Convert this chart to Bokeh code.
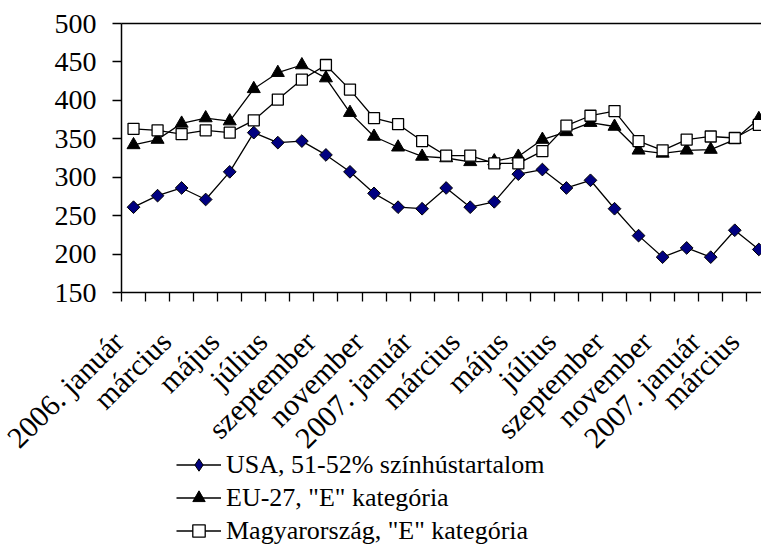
import math
from bokeh.plotting import figure
from bokeh.models import Range1d, FixedTicker, Legend, LegendItem, LinearAxis
from bokeh.embed import file_html
from bokeh.resources import INLINE

months = ["2006. január", "február", "március", "április", "május", "június",
          "július", "augusztus", "szeptember", "október", "november", "december",
          "2007. január", "február", "március", "április", "május", "június",
          "július", "augusztus", "szeptember", "október", "november", "december",
          "2007. január", "február", "március"]
tick_labels = ["2006. január", "március", "május", "július", "szeptember", "november",
               "2007. január", "március", "május", "július", "szeptember", "november",
               "2007. január", "március"]
usa = [261, 276, 286, 271, 307, 358, 345, 347, 329, 307, 279, 261, 259, 286,
       261, 268, 304, 310, 286, 296, 259, 224, 196, 208, 196, 231, 206]
eu = [342, 349, 370, 377, 373, 415, 436, 446, 429, 384, 353, 339, 327, 325,
      320, 321, 327, 349, 359, 371, 366, 335, 331, 335, 336, 349, 376]
hu = [363, 361, 356, 361, 358, 374, 401, 427, 446, 414, 377, 369, 347, 328,
      328, 318, 318, 334, 367, 380, 386, 347, 335, 349, 353, 351, 368]
y_ticks = [150, 200, 250, 300, 350, 400, 450, 500]
names = ["USA, 51-52% színhústartalom", 'EU-27, "E" kategória', 'Magyarország, "E" kategória']

xs = list(range(len(months)))
FONT = "Liberation Serif"
PAD = "\u00a0\u00a0\u00a0"  # shifts rotated label back along its diagonal

# layout (pixels): plot area x from 121, y 23..292 for 500..150; the frame covers the
# whole canvas so that axes, rotated labels and legend are not clipped
W, H = 761, 554
LEFT, TOP, AXIS_Y, CAT_PX = 121, 23, 292, 24.05
units_per_px = (y_ticks[-1] - y_ticks[0]) / (AXIS_Y - TOP)
y_start = y_ticks[0] - (H - AXIS_Y) * units_per_px
y_end = y_ticks[-1] + TOP * units_per_px
x_start = -0.5 - LEFT / CAT_PX
x_end = x_start + W / CAT_PX
x_bounds = (-0.5, len(months) - 0.5)

p = figure(width=W, height=H, output_backend="svg", toolbar_location=None,
           x_range=Range1d(x_start, x_end), y_range=Range1d(y_start, y_end),
           min_border_left=0, min_border_right=0, min_border_top=0, min_border_bottom=0)
p.outline_line_color = None
p.xgrid.visible = False
p.ygrid.visible = False
p.background_fill_color = "white"
p.border_fill_color = "white"

STYLES = [
    dict(marker="square", angle=math.pi / 4, size=9, fill_color="#000080",
         line_color="black", line_width=1),
    dict(marker="triangle", size=13, fill_color="black", line_color="black"),
    dict(marker="square", size=11, fill_color="white", line_color="black", line_width=1.3),
]
items = []
for k, (name, series, st) in enumerate(zip(names, [usa, eu, hu], STYLES)):
    r1 = p.line(xs, series, line_color="black", line_width=1.3)
    r2 = p.scatter(xs, series, **st)
    if k == 0:
        # legend shows a diamond (rotated squares are drawn unrotated in legends)
        r2 = p.scatter(xs, series, marker="diamond", fill_color="#000080",
                       line_color="black", line_width=1, visible=False)
    items.append(LegendItem(label=name, renderers=[r1, r2]))

# x axis at y=150
label_pos = [i * 2 for i in range(len(tick_labels))]
xa = p.xaxis[0]
xa.fixed_location = y_ticks[0]
xa.bounds = x_bounds
xa.ticker = FixedTicker(ticks=label_pos,
                        minor_ticks=[i - 0.5 for i in range(len(months) + 1)])
xa.major_label_overrides = {pos: t + PAD for pos, t in zip(label_pos, tick_labels)}
xa.major_label_orientation = math.pi / 4
xa.major_tick_in = 0
xa.major_tick_out = 0
xa.major_tick_line_color = None
xa.minor_tick_in = 0
xa.minor_tick_out = 9
xa.minor_tick_line_color = "black"
xa.minor_tick_line_width = 1.3
xa.axis_line_color = "black"
xa.axis_line_width = 1.5
xa.major_label_text_font = FONT
xa.major_label_text_font_size = "30px"
xa.major_label_text_color = "black"
xa.major_label_standoff = 19

# y axis at the first category boundary
ya = p.yaxis[0]
ya.fixed_location = x_bounds[0]
ya.bounds = (y_ticks[0], y_ticks[-1])
ya.ticker = FixedTicker(ticks=y_ticks)
ya.major_tick_in = 0
ya.major_tick_out = 9
ya.minor_tick_line_color = None
ya.major_tick_line_color = "black"
ya.major_tick_line_width = 1.3
ya.axis_line_color = "black"
ya.axis_line_width = 1.5
ya.major_label_text_font = FONT
ya.major_label_text_font_size = "28px"
ya.major_label_text_color = "black"
ya.major_label_standoff = 16

# top border line of the plot area
top = LinearAxis(fixed_location=y_ticks[-1], bounds=x_bounds, ticker=FixedTicker(ticks=[]),
                 axis_line_color="black", axis_line_width=1.5,
                 major_tick_line_color=None, minor_tick_line_color=None,
                 major_label_text_alpha=0)
p.add_layout(top, "above")

legend = Legend(items=items, location=(LEFT + 55, 8), orientation="vertical")
legend.border_line_color = None
legend.background_fill_alpha = 0
legend.inactive_fill_alpha = 0
legend.label_text_font = FONT
legend.label_text_font_size = "26px"
legend.label_text_color = "black"
legend.glyph_width = 45
legend.glyph_height = 31
legend.label_height = 31
legend.spacing = 2
legend.padding = 0
legend.margin = 0
legend.label_standoff = 5
p.add_layout(legend)

open("out.html", "w").write(file_html(p, INLINE))
